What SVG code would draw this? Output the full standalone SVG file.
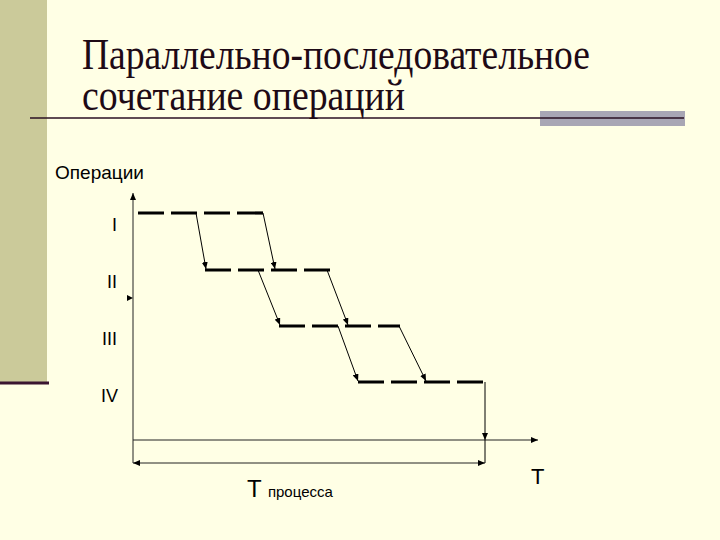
<svg xmlns="http://www.w3.org/2000/svg" width="720" height="540" viewBox="0 0 720 540">
<defs>
<style>
.title{font-family:"Liberation Serif","Times New Roman",serif;font-size:44px;fill:#1e0a16}
.lbl{font-family:"Liberation Sans",Arial,sans-serif;fill:#000}
.bar{stroke:#000;stroke-width:3.2;stroke-dasharray:26 7;fill:none}
.thin{stroke:#000;stroke-width:1;fill:none}
.axis{stroke:#222;stroke-width:1;fill:none}
</style>
<marker id="ah" markerUnits="userSpaceOnUse" markerWidth="8" markerHeight="6" refX="7" refY="3" orient="auto-start-reverse" viewBox="0 0 8 6">
<path d="M0,0 L7,3 L0,6 Z" fill="#000"/>
</marker>
</defs>
<rect x="0" y="0" width="720" height="540" fill="#ffffe5"/>
<g id="decor">
<rect x="0" y="0" width="47" height="382" fill="#cbca9a"/>
<line x1="0" y1="383" x2="49" y2="383" stroke="#3a1530" stroke-width="3"/>
<rect x="540" y="111" width="145" height="15" fill="#a8a6b4"/>
<line x1="30" y1="118" x2="684" y2="118" stroke="#2a0f22" stroke-width="1.6"/>
</g>
<g id="title">
<text class="title" x="82" y="69" textLength="508" lengthAdjust="spacingAndGlyphs">Параллельно-последовательное</text>
<text class="title" x="82" y="110" textLength="323" lengthAdjust="spacingAndGlyphs">сочетание операций</text>
</g>
<g id="labels">
<text class="lbl" x="55" y="179" font-size="19">Операции</text>
<text class="lbl" x="117" y="231" font-size="18" text-anchor="end">I</text>
<text class="lbl" x="117" y="288" font-size="18" text-anchor="end">II</text>
<text class="lbl" x="117" y="345" font-size="18" text-anchor="end">III</text>
<text class="lbl" x="118" y="402" font-size="18" text-anchor="end">IV</text>
<text class="lbl" x="531" y="484" font-size="22">T</text>
<text class="lbl" x="247" y="497" font-size="24">T <tspan font-size="15">процесса</tspan></text>
</g>
<g id="op1"><line class="bar" x1="138" y1="213" x2="263" y2="213"/></g>
<g id="op2"><line class="bar" x1="205" y1="270" x2="331" y2="270"/></g>
<g id="op3"><line class="bar" x1="279" y1="326" x2="400" y2="326"/></g>
<g id="op4"><line class="bar" x1="358" y1="382" x2="485" y2="382"/></g>
<g id="connectors">
<line class="axis" x1="133" y1="463" x2="133" y2="193" marker-end="url(#ah)"/>
<polygon points="127,295 133,298 127,301" fill="#000"/>
<line class="axis" x1="133" y1="440" x2="538" y2="440" marker-end="url(#ah)"/>
<line class="axis" x1="133" y1="463" x2="485" y2="463" marker-start="url(#ah)" marker-end="url(#ah)"/>
<line class="thin" x1="485" y1="382" x2="485" y2="440" marker-end="url(#ah)"/>
<line class="thin" x1="485" y1="440" x2="485" y2="463"/>
<line class="thin" x1="196" y1="213" x2="206" y2="269" marker-end="url(#ah)"/>
<line class="thin" x1="263" y1="213" x2="275" y2="269" marker-end="url(#ah)"/>
<line class="thin" x1="258" y1="270" x2="280" y2="325" marker-end="url(#ah)"/>
<line class="thin" x1="327" y1="270" x2="348" y2="325" marker-end="url(#ah)"/>
<line class="thin" x1="338" y1="326" x2="358" y2="381" marker-end="url(#ah)"/>
<line class="thin" x1="399" y1="326" x2="426" y2="381" marker-end="url(#ah)"/>
</g>
</svg>
